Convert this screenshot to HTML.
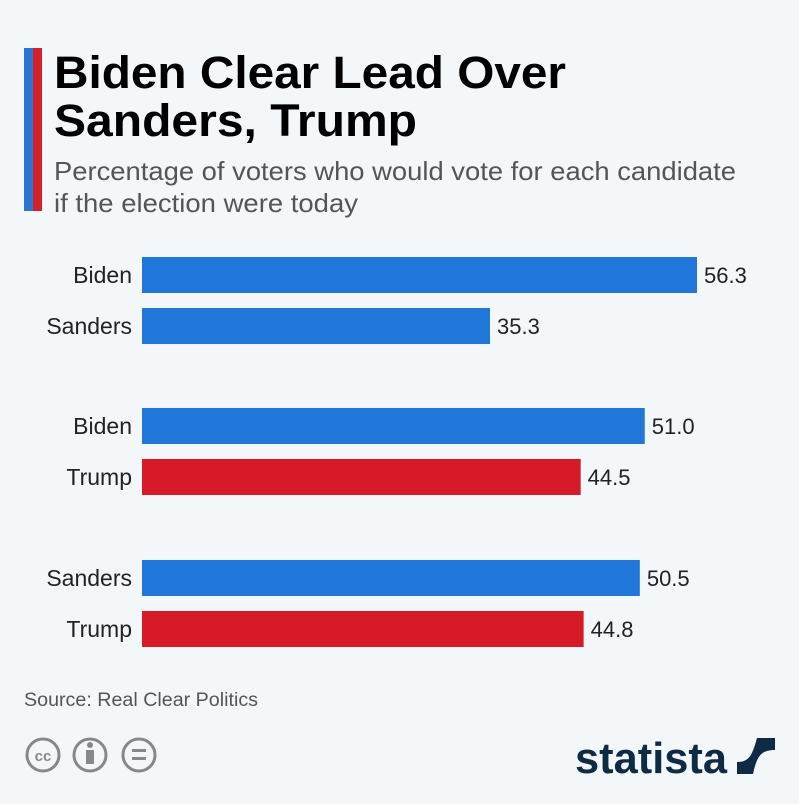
<!DOCTYPE html>
<html><head><meta charset="utf-8"><style>
body{margin:0;background:#f4f7fa;width:799px;height:799px;overflow:hidden;font-family:"Liberation Sans",sans-serif}
</style></head><body>
<svg width="799" height="799" xmlns="http://www.w3.org/2000/svg">
<rect width="799" height="799" fill="#f4f7fa"/>
<rect x="24" y="48" width="9" height="163" fill="#2a74d4"/>
<rect x="33" y="48" width="9" height="163" fill="#d51f2a"/>
<text x="54" y="88" font-size="45" font-weight="bold" fill="#000" textLength="512" lengthAdjust="spacingAndGlyphs">Biden Clear Lead Over</text>
<text x="54" y="136" font-size="45" font-weight="bold" fill="#000" textLength="363" lengthAdjust="spacingAndGlyphs">Sanders, Trump</text>
<text x="54" y="180" font-size="26" fill="#555" textLength="682" lengthAdjust="spacingAndGlyphs">Percentage of voters who would vote for each candidate</text>
<text x="54" y="212" font-size="26" fill="#555" textLength="304" lengthAdjust="spacingAndGlyphs">if the election were today</text>
<g id="bars"></g>
<text x="24" y="706" font-size="19" fill="#555" textLength="234" lengthAdjust="spacingAndGlyphs">Source: Real Clear Politics</text>
<g fill="none" stroke="#888" stroke-width="3">
<circle cx="43" cy="755" r="16"/><circle cx="90" cy="755" r="16"/><circle cx="139" cy="755" r="16"/>
</g>
<text x="43" y="761" font-size="15" font-weight="bold" fill="#888" text-anchor="middle">cc</text>
<circle cx="90" cy="745" r="3" fill="#888"/>
<rect x="86" y="750" width="8" height="14" fill="#888"/>
<rect x="132" y="749" width="14" height="3" fill="#888"/>
<rect x="132" y="757" width="14" height="3" fill="#888"/>
<text x="575" y="773" font-size="44" font-weight="bold" fill="#0f2a45" textLength="152" lengthAdjust="spacingAndGlyphs">statista</text>
<path d="M737 738h38v12c-14 0-18 6-22 24h-16v-12c12 0 15-6 20-24z" fill="#0f2a45"/>
</svg>
<script>
const labels=["Biden","Sanders","Biden","Trump","Sanders","Trump"];
const values=[56.3,35.3,51.0,44.5,50.5,44.8];
const parties=["dem","dem","dem","rep","dem","rep"];
const x0=142,scale=9.858;
const ys=[257,308,408,459,560,611];
const g=document.getElementById('bars');
const ns='http://www.w3.org/2000/svg';
function xs(v){return x0+v*scale;}
values.forEach((v,i)=>{
 const y=ys[i];
 const r=document.createElementNS(ns,'rect');
 r.setAttribute('x',x0);r.setAttribute('y',y);r.setAttribute('width',xs(v)-x0);r.setAttribute('height',36);
 r.setAttribute('fill',parties[i]==='dem'?'#2176d9':'#d71a28');
 
 
 g.appendChild(r);
 const l=document.createElementNS(ns,'text');
 l.setAttribute('x',132);l.setAttribute('y',y+26);l.setAttribute('text-anchor','end');l.setAttribute('font-size','23');l.setAttribute('fill','#222');
 l.textContent=labels[i];
 
 
 g.appendChild(l);
 const t=document.createElementNS(ns,'text');
 t.setAttribute('x',xs(v)+7);t.setAttribute('y',y+26);t.setAttribute('font-size','22');t.setAttribute('fill','#222');
 t.textContent=v.toFixed(1);
 
 
 g.appendChild(t);
});
</script>
</body></html>
